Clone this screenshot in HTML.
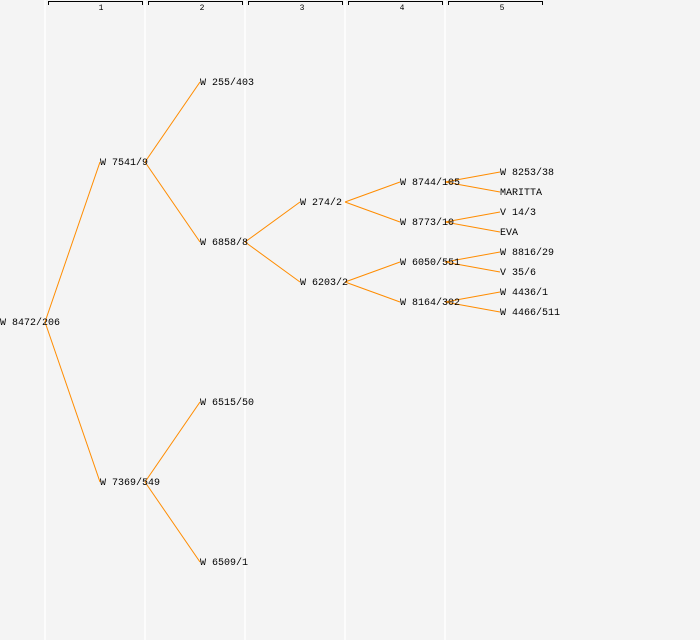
<!DOCTYPE html>
<html><head><style>body{margin:0;background:#f4f4f4}svg{display:block}text{font-family:"Liberation Mono",monospace;font-size:10px;fill:#000}</style></head><body>
<svg width="700" height="640" xmlns="http://www.w3.org/2000/svg">
<rect width="700" height="640" fill="#f4f4f4"/>
<g stroke="#fff" stroke-width="1.5">
<line x1="45" y1="0" x2="45" y2="640"/><line x1="145" y1="0" x2="145" y2="640"/><line x1="245" y1="0" x2="245" y2="640"/><line x1="345" y1="0" x2="345" y2="640"/><line x1="445" y1="0" x2="445" y2="640"/>
</g>
<g stroke="#000" fill="none" stroke-width="1">
<path d="M48.5 5V1.5H142.5V5"/><path d="M148.5 5V1.5H242.5V5"/><path d="M248.5 5V1.5H342.5V5"/><path d="M348.5 5V1.5H442.5V5"/><path d="M448.5 5V1.5H542.5V5"/>
</g>
<g text-anchor="middle"><text x="101" y="10" style="font-size:8px">1</text><text x="202" y="10" style="font-size:8px">2</text><text x="302" y="10" style="font-size:8px">3</text><text x="402" y="10" style="font-size:8px">4</text><text x="502" y="10" style="font-size:8px">5</text></g>
<g stroke="#ff8c00" stroke-width="1">
<line x1="45" y1="322" x2="100" y2="162"/><line x1="45" y1="322" x2="100" y2="482"/>
<line x1="145" y1="162" x2="200" y2="82"/><line x1="145" y1="162" x2="200" y2="242"/>
<line x1="145" y1="482" x2="200" y2="402"/><line x1="145" y1="482" x2="200" y2="562"/>
<line x1="245" y1="242" x2="300" y2="202"/><line x1="245" y1="242" x2="300" y2="282"/>
<line x1="345" y1="202" x2="400" y2="182"/><line x1="345" y1="202" x2="400" y2="222"/>
<line x1="345" y1="282" x2="400" y2="262"/><line x1="345" y1="282" x2="400" y2="302"/>
<line x1="445" y1="182" x2="500" y2="172"/><line x1="445" y1="182" x2="500" y2="192"/>
<line x1="445" y1="222" x2="500" y2="212"/><line x1="445" y1="222" x2="500" y2="232"/>
<line x1="445" y1="262" x2="500" y2="252"/><line x1="445" y1="262" x2="500" y2="272"/>
<line x1="445" y1="302" x2="500" y2="292"/><line x1="445" y1="302" x2="500" y2="312"/>
</g>
<g>
<text x="0" y="325">W 8472/206</text>
<text x="100" y="165">W 7541/9</text><text x="100" y="485">W 7369/549</text>
<text x="200" y="85">W 255/403</text><text x="200" y="245">W 6858/8</text><text x="200" y="405">W 6515/50</text><text x="200" y="565">W 6509/1</text>
<text x="300" y="205">W 274/2</text><text x="300" y="285">W 6203/2</text>
<text x="400" y="185">W 8744/105</text><text x="400" y="225">W 8773/10</text><text x="400" y="265">W 6050/551</text><text x="400" y="305">W 8164/302</text>
<text x="500" y="175">W 8253/38</text><text x="500" y="195">MARITTA</text><text x="500" y="215">V 14/3</text><text x="500" y="235">EVA</text><text x="500" y="255">W 8816/29</text><text x="500" y="275">V 35/6</text><text x="500" y="295">W 4436/1</text><text x="500" y="315">W 4466/511</text>
</g>
</svg>
</body></html>
